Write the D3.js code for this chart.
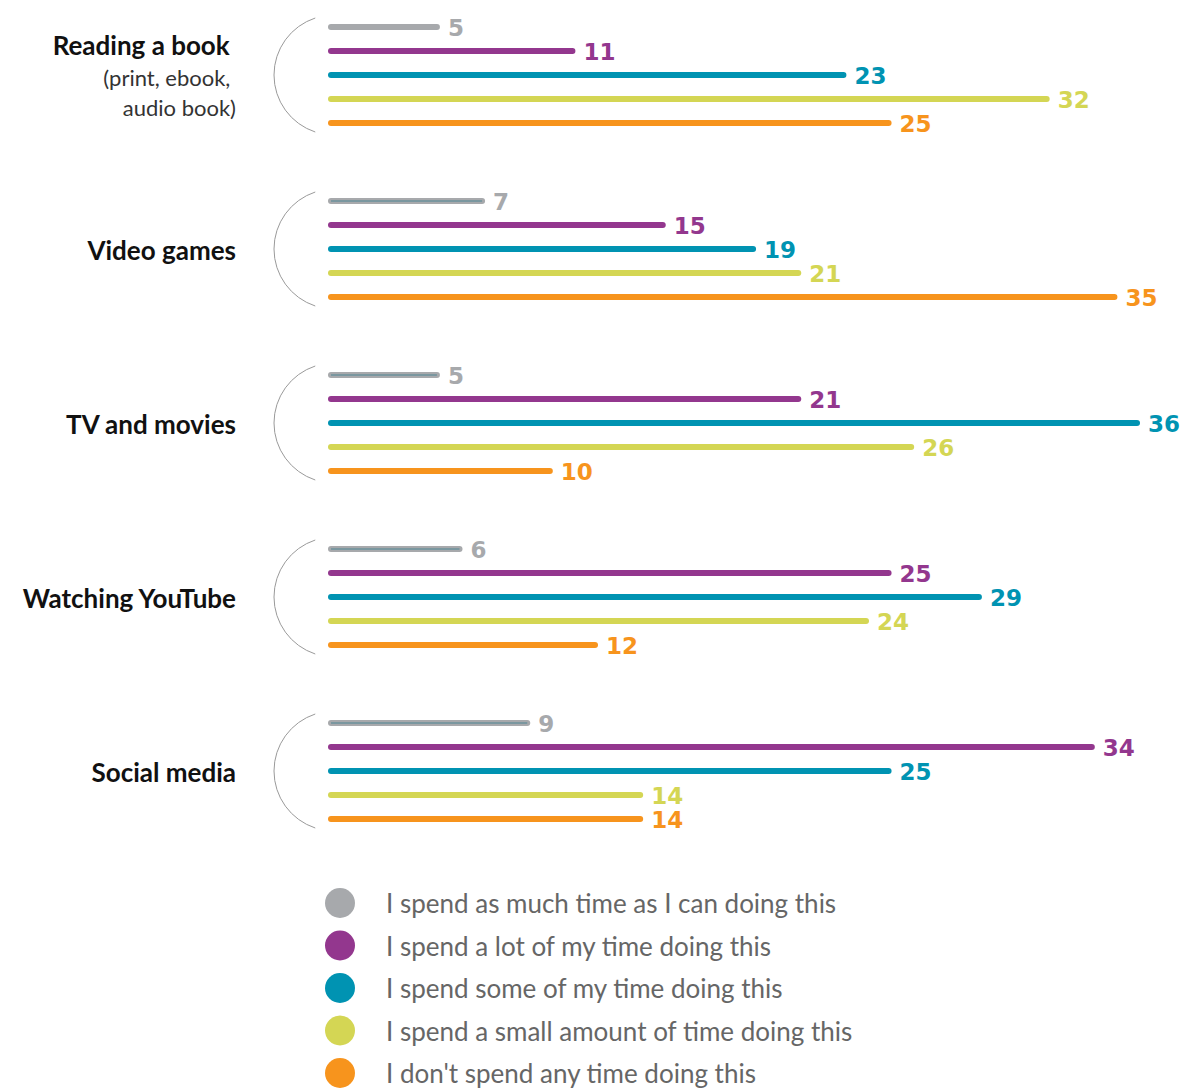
<!DOCTYPE html>
<html><head><meta charset="utf-8">
<script src="https://cdn.jsdelivr.net/npm/d3@7"></script>
<style>body{margin:0;background:#fff} text{white-space:pre}</style>
</head><body>
<svg id="chart" width="1183" height="1089"></svg>
<script>
const categories = ["Reading a book ", "Video games", "TV and movies", "Watching YouTube", "Social media"];
const subtitles = [["(print, ebook, ", "audio book)"], [], [], [], []];
const seriesNames = [
  "I spend as much time as I can doing this",
  "I spend a lot of my time doing this",
  "I spend some of my time doing this",
  "I spend a small amount of time doing this",
  "I don't spend any time doing this"
];
const asMuchAsICan = [5, 7, 5, 6, 9];
const aLot = [11, 15, 21, 25, 34];
const some = [23, 19, 36, 29, 25];
const smallAmount = [32, 21, 26, 24, 14];
const none = [25, 35, 10, 12, 14];
const series = [asMuchAsICan, aLot, some, smallAmount, none];
const colors = ["#a7a9ac", "#93378e", "#0093b2", "#d4d654", "#f7941d"];

const svg = d3.select("#chart");
const x0 = 328;
const x = d3.scaleLinear().domain([0, 36]).range([327, 1140]);
const groupY = d3.scalePoint().domain(categories).range([75, 771]);
const barY = d3.scalePoint().domain(d3.range(5)).range([-48, 48]);
const barH = 6;

categories.forEach((cat, gi) => {
  const cy = groupY(cat);
  const g = svg.append("g");
  const r = 60, cx = 334;
  const a = Math.asin(57 / r);
  const p = d3.path();
  p.arc(cx, cy, r, Math.PI + a, Math.PI - a, true);
  g.append("path").attr("d", p.toString()).attr("fill", "none").attr("stroke", "#9a9a9a").attr("stroke-width", 1);

  const subs = subtitles[gi];
  const lblY = subs.length ? cy - 29 : cy + 2;
  g.append("text").attr("x", 236).attr("y", lblY).attr("dy", "0.35em")
    .attr("text-anchor", "end").attr("font-family", "Lato").attr("font-weight", 700)
    .attr("font-size", 26).attr("fill", "#111").text(cat);
  subs.forEach((s, si) => {
    g.append("text").attr("x", 236).attr("y", cy + 3 + si * 30).attr("dy", "0.35em")
      .attr("text-anchor", "end").attr("font-family", "Lato").attr("font-weight", 400)
      .attr("font-size", 22).attr("fill", "#333").text(s);
  });

  series.forEach((vals, si) => {
    const y = cy + barY(si);
    const v = vals[gi];
    g.append("rect").attr("x", x0).attr("y", y - barH / 2)
      .attr("width", x(v) - x0).attr("height", barH).attr("rx", barH / 2)
      .attr("fill", colors[si]);
    if (si === 0 && gi > 0) {
      g.append("line").attr("x1", x0 + 3).attr("x2", x(v) - 3).attr("y1", y).attr("y2", y)
        .attr("stroke", "#4f8593").attr("stroke-width", 1);
    }
    g.append("text").attr("x", x(v) + 8).attr("y", y + 1).attr("dy", "0.36em")
      .attr("font-family", "DejaVu Sans").attr("font-weight", 700).attr("font-size", 23)
      .attr("fill", colors[si]).text(v);
  });
});

const legY = d3.scalePoint().domain(seriesNames).range([903, 1073]);
const leg = svg.append("g");
seriesNames.forEach((n, i) => {
  const y = legY(n);
  leg.append("circle").attr("cx", 340).attr("cy", y).attr("r", 15).attr("fill", colors[i]);
  leg.append("text").attr("x", 386).attr("y", y + 1).attr("dy", "0.35em")
    .attr("font-family", "Lato").attr("font-size", 26).attr("fill", "#666").text(n);
});
</script>
</body></html>
